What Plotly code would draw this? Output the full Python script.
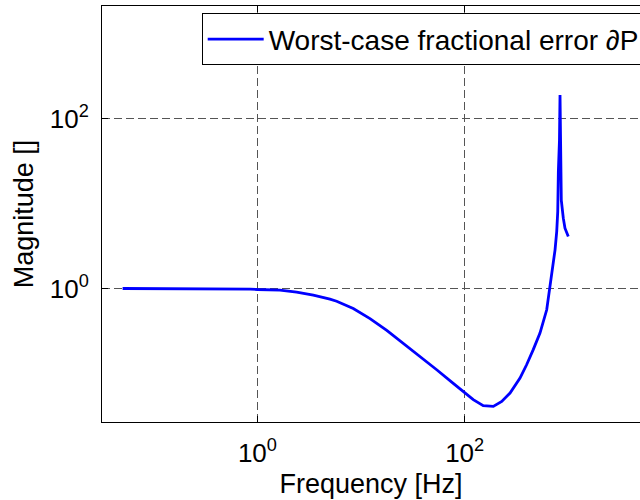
import plotly.graph_objects as go

# Data (frequency in Hz, magnitude)
freq_hz = [0.05, 0.28, 0.76, 0.85, 1.0, 1.65, 2.39, 3.46, 5.01, 5.81, 8.41, 12.2,
           17.7, 25.5, 37.1, 53.7, 77.6, 100, 121, 151, 189, 228, 274, 342,
           396, 459, 533, 619, 665, 716, 745, 773, 791, 802, 822, 832, 841,
           848, 856, 895, 929, 1000]
magnitude = [1.0, 1.0, 1.0, 0.984, 0.973, 0.959, 0.908, 0.836, 0.75, 0.708, 0.582, 0.442,
             0.320, 0.226, 0.158, 0.110, 0.0759, 0.0589, 0.0488, 0.0414, 0.0406, 0.0466, 0.0585, 0.0879,
             0.126, 0.190, 0.298, 0.561, 1.0, 1.99, 2.86, 4.7, 8.07, 23.9, 56.5, 192, 56.5,
             28, 11, 6.76, 5.15, 4.10]

series_name = "Worst-case fractional error \u2202P"
x_tickvals = [1, 100]
x_ticktext = ["10<sup>0</sup>", "10<sup>2</sup>"]
y_tickvals = [1, 100]
y_ticktext = ["10<sup>0</sup>", "10<sup>2</sup>"]

FONT = "Liberation Sans, Arial, Helvetica, sans-serif"

fig = go.Figure()
fig.add_trace(go.Scatter(
    x=freq_hz, y=magnitude, mode="lines", name=series_name,
    line=dict(color="#0000FF", width=2.8),
))

fig.update_layout(
    width=640, height=500,
    margin=dict(l=102, r=0, t=6, b=78, autoexpand=False),
    paper_bgcolor="white", plot_bgcolor="white",
    font=dict(family=FONT, size=26, color="black"),
    showlegend=True,
    legend=dict(
        x=0.1853, y=0.982, xanchor="left", yanchor="top",
        bgcolor="white", bordercolor="black", borderwidth=1,
        font=dict(family=FONT, size=28, color="black"),
        itemwidth=56,
    ),
)

fig.update_xaxes(
    type="log", range=[-1.5, 3.692],
    tickvals=x_tickvals, ticktext=x_ticktext,
    ticks="inside", ticklen=6, tickcolor="black",
    showline=True, linecolor="black", linewidth=1, mirror="ticks",
    showgrid=True, gridcolor="#555555", griddash="8px,4px", gridwidth=1,
    zeroline=False, ticklabelstandoff=8,
    title=dict(text="Frequency [Hz]", standoff=6, font=dict(size=27)),
    tickfont=dict(size=26),
)
fig.update_yaxes(
    type="log", range=[-1.575, 3.333],
    tickvals=y_tickvals, ticktext=y_ticktext,
    ticks="inside", ticklen=6, tickcolor="black",
    showline=True, linecolor="black", linewidth=1, mirror=False,
    showgrid=True, gridcolor="#555555", griddash="8px,4px", gridwidth=1,
    zeroline=False, ticklabelstandoff=7,
    title=dict(text="Magnitude []", standoff=8, font=dict(size=27)),
    tickfont=dict(size=26),
)

fig.write_html("out.html", config={"displayModeBar": False})
